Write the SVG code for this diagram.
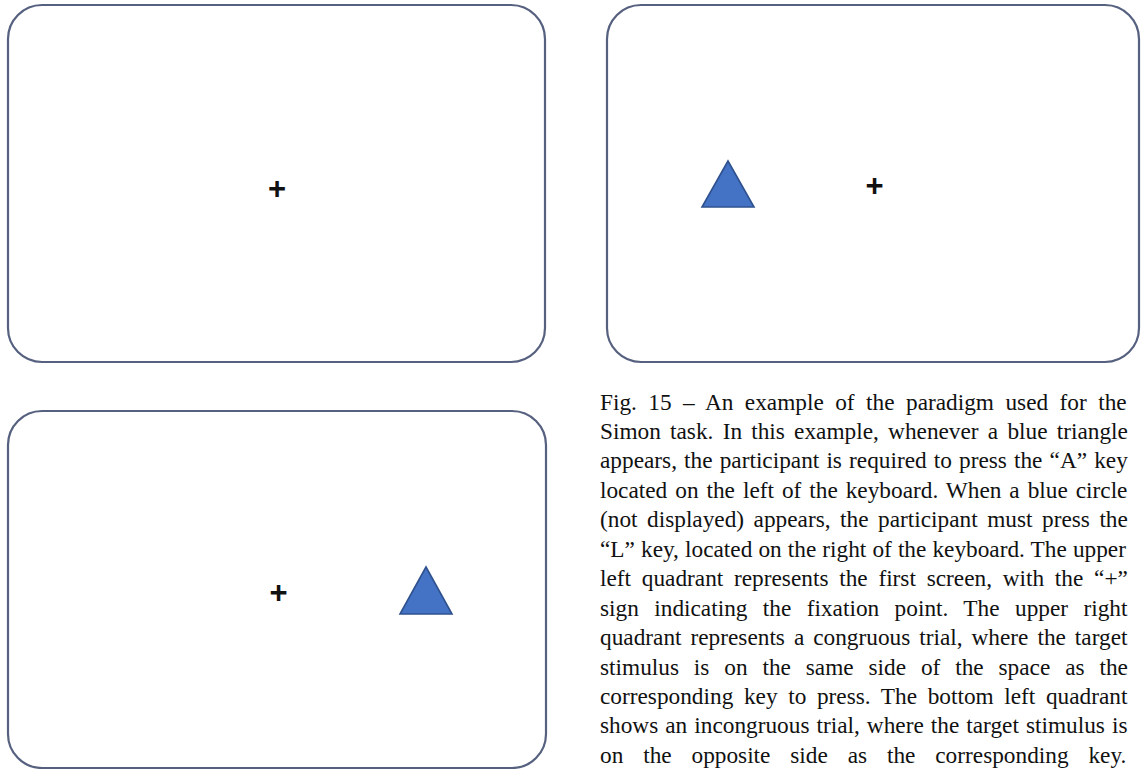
<svg xmlns="http://www.w3.org/2000/svg" width="1141" height="769" viewBox="0 0 1141 769">
<style>
.screen{fill:#ffffff;stroke:#56607f;stroke-width:2.2}
.fix{font-family:"Liberation Sans",Arial,sans-serif;font-size:31px;font-weight:bold;fill:#111;text-anchor:middle}
.stim{fill:#4472C4;stroke:#2F528F;stroke-width:1.6;stroke-linejoin:miter}
.cap{font-family:"Liberation Serif","Times New Roman",serif;font-size:23.3px;fill:#111}
</style>
<rect width="1141" height="769" fill="#ffffff"/>
<g id="screen-fixation">
<rect class="screen" x="8" y="5" width="537" height="357" rx="34" ry="34"/>
<text class="fix" x="277" y="199">+</text>
</g>
<g id="screen-congruous">
<rect class="screen" x="607" y="5" width="532" height="357" rx="34" ry="34"/>
<polygon class="stim" points="728,161 754,207 702,207"/>
<text class="fix" x="874.5" y="196">+</text>
</g>
<g id="screen-incongruous">
<rect class="screen" x="8" y="411" width="538" height="357" rx="34" ry="34"/>
<text class="fix" x="278.5" y="603">+</text>
<polygon class="stim" points="426,567 452,614 400,614"/>
</g>
<g id="connectors"></g>
<g id="caption" class="cap">
<text x="600" y="409.5" word-spacing="5.63">Fig. 15 – An example of the paradigm used for the</text>
<text x="600" y="438.95" word-spacing="3.39">Simon task. In this example, whenever a blue triangle</text>
<text x="600" y="468.4" word-spacing="1.29">appears, the participant is required to press the “A” key</text>
<text x="600" y="497.85" word-spacing="2.14">located on the left of the keyboard. When a blue circle</text>
<text x="600" y="527.3" word-spacing="3.69">(not displayed) appears, the participant must press the</text>
<text x="600" y="556.75" word-spacing="0.26">“L” key, located on the right of the keyboard. The upper</text>
<text x="600" y="586.2" word-spacing="4.91">left quadrant represents the first screen, with the “+”</text>
<text x="600" y="615.65" word-spacing="9.6">sign indicating the fixation point. The upper right</text>
<text x="600" y="645.1" word-spacing="3.15">quadrant represents a congruous trial, where the target</text>
<text x="600" y="674.55" word-spacing="9.05">stimulus is on the same side of the space as the</text>
<text x="600" y="704" word-spacing="4.8">corresponding key to press. The bottom left quadrant</text>
<text x="600" y="733.45" word-spacing="1.2">shows an incongruous trial, where the target stimulus is</text>
<text x="600" y="762.9" word-spacing="14.04">on the opposite side as the corresponding key.</text>
</g>
</svg>
